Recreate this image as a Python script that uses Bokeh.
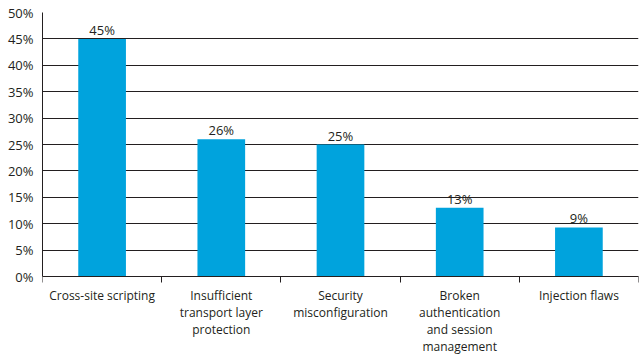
from bokeh.plotting import figure
from bokeh.models import ColumnDataSource, FixedTicker, PrintfTickFormatter, LabelSet
from bokeh.core.properties import value
from bokeh.embed import file_html
from bokeh.resources import INLINE

categories = ["Cross-site scripting", "Insufficient\ntransport layer\nprotection",
              "Security\nmisconfiguration", "Broken\nauthentication\nand session\nmanagement",
              "Injection flaws"]
values = [45, 26, 25, 13, 9.3]
value_labels = ["45%", "26%", "25%", "13%", "9%"]
y_ticks = [0, 5, 10, 15, 20, 25, 30, 35, 40, 45, 50]

xs = [i + 0.5 for i in range(len(categories))]
src = ColumnDataSource(dict(x=xs, top=values, lab=value_labels))

FONT = "Open Sans"
TXT = "#231F20"

# frame: top at 12px, value 0 at 276px, bottom of figure at 359px
px_per_unit = (276 - 12) / 50.0
y_low = -(359 - 276) / px_per_unit

p = figure(width=639, height=359, x_range=(0, 5), y_range=(y_low, 50),
           output_backend="svg", toolbar_location=None,
           min_border_left=42, min_border_right=1, min_border_top=12, min_border_bottom=0)
p.outline_line_color = None
p.background_fill_color = "white"

p.vbar(x="x", top="top", width=0.4, bottom=0, source=src, fill_color="#00A3DD", line_color=None)

labels = LabelSet(x="x", y="top", text="lab", source=src, text_align="center",
                  text_baseline="alphabetic", y_offset=4, text_font=value(FONT),
                  text_font_size=value("13px"), text_color=TXT)
p.add_layout(labels)

p.xaxis.fixed_location = 0
p.xaxis.ticker = FixedTicker(ticks=xs, minor_ticks=[0, 1, 2, 3, 4, 5])
p.xaxis.major_label_overrides = {x: c for x, c in zip(xs, categories)}
p.xaxis.major_tick_out = 0
p.xaxis.major_tick_in = 0
p.xaxis.minor_tick_out = 6
p.xaxis.minor_tick_in = 0
p.xaxis.minor_tick_line_color = TXT
p.xaxis.axis_line_color = TXT
p.xaxis.major_label_text_font = FONT
p.xaxis.major_label_text_font_size = "12px"
p.xaxis.major_label_text_color = TXT
p.xaxis.major_label_standoff = 4
p.xaxis.major_label_text_line_height = 1.0
p.xgrid.grid_line_color = None

p.yaxis.ticker = FixedTicker(ticks=y_ticks)
p.yaxis.bounds = (0, 50)
p.yaxis.formatter = PrintfTickFormatter(format="%d%%")
p.yaxis.major_tick_out = 0
p.yaxis.major_tick_in = 0
p.yaxis.minor_tick_line_color = None
p.yaxis.axis_line_color = TXT
p.yaxis.major_label_text_font = FONT
p.yaxis.major_label_text_font_size = "13px"
p.yaxis.major_label_text_color = TXT
p.yaxis.major_label_standoff = 9
p.ygrid.grid_line_color = TXT
p.ygrid.grid_line_alpha = 1.0

open("out.html", "w").write(file_html(p, INLINE))
